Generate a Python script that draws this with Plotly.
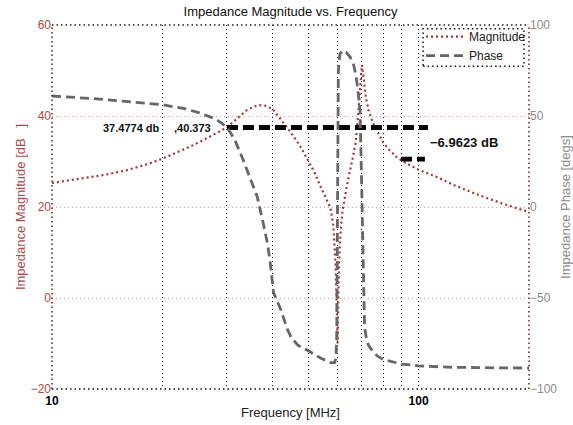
import plotly.graph_objects as go

# ---------------- data ----------------
freq_mag = [10, 12, 14, 16, 18, 20, 22, 24, 26, 28, 30, 31, 32.6, 34, 35.4, 36.5, 38, 40,
            42.8, 44.7, 47.6, 50, 52, 54, 56, 57.5, 58.5, 59.3, 59.8, 60.1, 60.5, 61, 62,
            63, 64.4, 66, 67.3, 68.6, 69.3, 70, 70.8, 71.8, 73, 75, 77.3, 80, 83, 87, 92,
            100, 112, 125, 145, 170, 200]
mag_db = [25.3, 26.2, 27.1, 28.1, 29.3, 30.6, 32.0, 33.4, 34.8, 36.2, 37.5, 38.5, 40.0, 41.3,
          42.0, 42.4, 42.3, 41.5, 38.5, 36.5, 33.3, 30.3, 27.6, 24.5, 21.6, 19.8, 16.0, 8.0,
          -2.0, -10.0, 4.0, 12.5, 19.3, 22.5, 26.6, 30.5, 34.0, 41.3, 47.0, 51.2, 48.5, 44.0,
          41.3, 38.5, 36.5, 34.2, 32.6, 31.0, 29.7, 28.2, 26.6, 24.8, 22.7, 20.7, 18.9]

freq_ph = [10, 13.5, 16.6, 20, 23, 25, 27, 28.2, 30, 31.5, 33.2, 34.8, 36.3, 37.5, 38.7,
           39.4, 40.2, 42, 43.8, 45, 46.9, 50, 54, 57.5, 59, 59.5, 59.8, 60.0, 60.2, 60.4,
           61, 62, 63.5, 65, 66.5, 67.5, 68.3, 69.2, 69.8, 70.3, 70.7, 71.2, 72, 73, 75,
           77.3, 80, 84, 90, 100, 120, 150, 200]
phase_deg = [61, 59.3, 57.7, 56.2, 54.0, 52.0, 49.5, 47.8, 44.0, 37.0, 26.0, 15.0, 5.5, -7.0,
             -20.0, -31.0, -47.0, -56.0, -67.0, -72.0, -76.0, -79.0, -83.0, -85.5, -85.5,
             -83.0, -70.0, -20.0, 40.0, 75.0, 84.0, 86.0, 85.0, 82.5, 78.0, 72.0, 64.0, 53.0,
             20.0, -20.0, -50.0, -66.0, -72.0, -76.0, -79.5, -82.0, -83.8, -85.0, -86.3,
             -87.3, -88.0, -88.3, -88.5]

ref_line_x = [30, 106]
ref_line_db = [37.4774, 37.4774]
drop_line_x = [89.5, 104]
drop_line_db = [37.4774 - 6.9623, 37.4774 - 6.9623]

x_tickvals = [10, 20, 30, 40, 50, 60, 70, 80, 90, 100]
x_ticktext = ["<b>10</b>", "", "", "", "", "", "", "", "", "<b>100</b>"]
y_tickvals = [-20, 0, 20, 40, 60]
y2_tickvals = [-100, -50, 0, 50, 100]

FONT = "Liberation Sans, Arial, Helvetica, sans-serif"
RED = "#a33535"
RED_TXT = "#b04848"
GREY = "#666666"

fig = go.Figure()
fig.add_trace(go.Scatter(x=freq_mag, y=mag_db, name="Magnitude", mode="lines",
                         line=dict(color=RED, width=2.2, dash="2px,3px")))
fig.add_trace(go.Scatter(x=freq_ph, y=phase_deg, name="Phase", mode="lines", yaxis="y2",
                         line=dict(color=GREY, width=2.8, dash="9px,5px")))
fig.add_trace(go.Scatter(x=ref_line_x, y=ref_line_db, mode="lines", showlegend=False,
                         hoverinfo="skip", line=dict(color="black", width=4.8, dash="11px,5px")))
fig.add_trace(go.Scatter(x=drop_line_x, y=drop_line_db, mode="lines", showlegend=False,
                         hoverinfo="skip", line=dict(color="black", width=4.8, dash="11px,5px")))

fig.update_layout(
    width=573, height=425,
    margin=dict(l=52, r=44, t=25, b=36, autoexpand=False),
    paper_bgcolor="white", plot_bgcolor="white",
    font=dict(family=FONT, size=12, color="#222"),
    title=dict(text="Impedance Magnitude vs. Frequency", x=0.507, xanchor="center",
               y=1 - 11 / 425, yanchor="middle", yref="container",
               font=dict(size=13, color="#111")),
    showlegend=True,
    legend=dict(x=0.7736, y=1.008, xanchor="left", yanchor="top", bgcolor="rgba(0,0,0,0)",
                borderwidth=0, font=dict(size=12, color="#222"), itemwidth=38,
                tracegroupgap=0),
    xaxis=dict(type="log", range=[1, 2.30103], tickvals=x_tickvals, ticktext=x_ticktext,
               showgrid=True, gridcolor="#111", griddash="1px,3px", gridwidth=1,
               zeroline=False, showline=False, ticks="", ticklabelstandoff=3,
               automargin=False,
               tickfont=dict(size=12, color="black"),
               title=dict(text="Frequency [MHz]", font=dict(size=13, color="#222"), standoff=0)),
    yaxis=dict(range=[-20, 60], tickvals=y_tickvals, showgrid=True, gridcolor="#e49a9a",
               griddash="1px,3px", gridwidth=1, zeroline=False, showline=False, ticks="",
               automargin=False,
               tickfont=dict(size=12, color=RED_TXT),
               title=dict(text="Impedance Magnitude [dB\u00a0\u00a0\u00a0]",
                          font=dict(size=13, color=RED_TXT), standoff=2)),
    yaxis2=dict(range=[-100, 100], tickvals=y2_tickvals, overlaying="y", side="right",
                showgrid=False, zeroline=False, showline=False, ticks="",
                automargin=False,
                tickfont=dict(size=12, color="#8a8a8a"),
                title=dict(text="Impedance Phase [degs]", font=dict(size=13, color="#8a8a8a"),
                           standoff=9)),
)

# dotted plot frame
frame = [
    dict(x0=0, x1=1, y0=1, y1=1, color="#222"),
    dict(x0=0, x1=1, y0=0, y1=0, color="#111"),
    dict(x0=0, x1=0, y0=0, y1=1, color="#8b2020"),
    dict(x0=1, x1=1, y0=0, y1=1, color="#8b2020"),
]
for f in frame:
    fig.add_shape(type="line", xref="paper", yref="paper", x0=f["x0"], x1=f["x1"],
                  y0=f["y0"], y1=f["y1"], line=dict(color=f["color"], width=1.6, dash="1.5px,3px"),
                  layer="above")

# legend box
fig.add_shape(type="rect", xref="paper", yref="paper", x0=0.778, x1=0.9895, y0=0.887, y1=0.99,
              line=dict(color="#111", width=1.5, dash="1.5px,3px"), fillcolor="rgba(0,0,0,0)",
              layer="above")

# annotations
fig.add_annotation(x=1.30103, y=37.3, xref="x", yref="y", text="<b>37.4774 db</b>",
                   showarrow=False, xanchor="right", yanchor="middle",
                   font=dict(size=11, color="#111"))
fig.add_annotation(x=1.328, y=37.3, xref="x", yref="y", text="<b>,40.373</b>",
                   showarrow=False, xanchor="left", yanchor="middle",
                   font=dict(size=11, color="#111"))
fig.add_annotation(x=2.0246, y=34.1, xref="x", yref="y", text="<b>\u22126.9623 dB</b>",
                   showarrow=False, xanchor="left", yanchor="middle",
                   font=dict(size=13, color="#111"))

fig.write_html("out.html")
